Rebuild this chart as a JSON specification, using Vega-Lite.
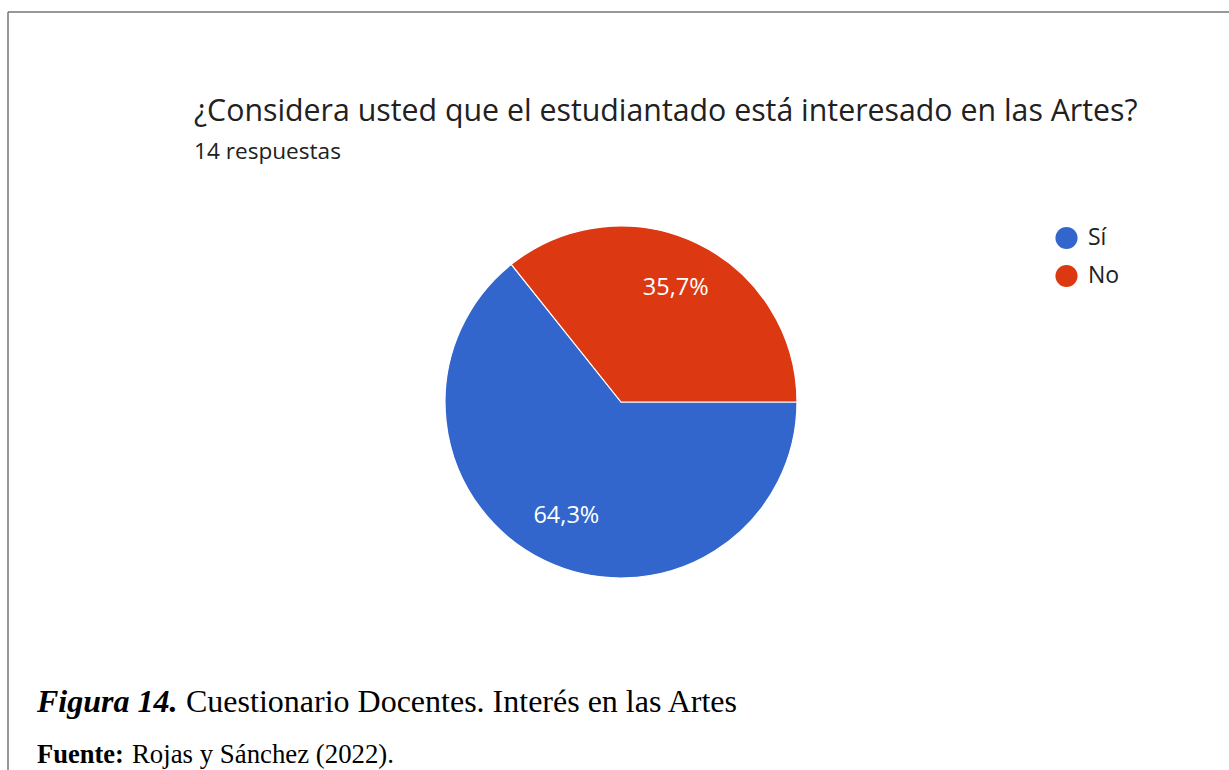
{
  "$schema": "https://vega.github.io/schema/vega-lite/v6.json",
  "autosize": {"type": "none"},
  "width": 1226,
  "height": 780,
  "padding": {"left": 8, "top": 12, "right": -5, "bottom": -22},
  "background": "white",
  "config": {
    "view": {"stroke": "#777777", "strokeWidth": 1.5, "strokeDash": [1226, 2006, 780, 0]},
    "font": "Open Sans"
  },
  "title": {
    "text": "¿Considera usted que el estudiantado está interesado en las Artes?",
    "subtitle": "14 respuestas",
    "anchor": "start",
    "frame": "group",
    "orient": "top",
    "dx": 186,
    "offset": -152,
    "font": "Open Sans",
    "fontSize": 30.3,
    "fontWeight": "normal",
    "color": "#212121",
    "subtitleFont": "Open Sans",
    "subtitleFontSize": 22.6,
    "subtitleColor": "#212121",
    "subtitlePadding": 14
  },
  "data": {
    "values": [
      {"respuesta": "Sí", "n": 9, "label": "64,3%"},
      {"respuesta": "No", "n": 5, "label": "35,7%"}
    ]
  },
  "encoding": {
    "theta": {"field": "n", "type": "quantitative", "stack": true, "scale": {"range": [1.5707963, 7.8539816]}},
    "order": {"field": "ord", "type": "quantitative"}
  },
  "layer": [
    {
      "mark": {"type": "arc", "outerRadius": 176, "stroke": "white", "strokeWidth": 1.2},
      "encoding": {
        "color": {
          "field": "respuesta",
          "type": "nominal",
          "sort": ["Sí", "No"],
          "scale": {"domain": ["Sí", "No"], "range": ["#3366CC", "#DC3912"]},
          "legend": {
            "orient": "none",
            "legendX": 1047,
            "legendY": 214.5,
            "title": null,
            "symbolType": "circle",
            "symbolSize": 490,
            "symbolStrokeWidth": 0,
            "labelFont": "Open Sans",
            "labelFontSize": 23,
            "labelColor": "#212121",
            "labelOffset": 10,
            "rowPadding": 14
          }
        }
      }
    },
    {
      "mark": {"type": "text", "radius": 126, "fill": "white", "fontSize": 23.5, "font": "Open Sans"},
      "encoding": {
        "text": {"field": "label", "type": "nominal"}
      }
    },
    {
      "data": {"values": [{"t": "Figura 14."}]},
      "mark": {"type": "text", "align": "left", "baseline": "alphabetic", "font": "Liberation Serif", "fontSize": 32, "fontStyle": "italic", "fontWeight": "bold", "color": "black"},
      "encoding": {"text": {"field": "t"}, "x": {"value": 29}, "y": {"value": 700}, "theta": null, "order": null}
    },
    {
      "data": {"values": [{"t": "Cuestionario Docentes. Interés en las Artes"}]},
      "mark": {"type": "text", "align": "left", "baseline": "alphabetic", "font": "Liberation Serif", "fontSize": 32, "color": "black"},
      "encoding": {"text": {"field": "t"}, "x": {"value": 178}, "y": {"value": 700}, "theta": null, "order": null}
    },
    {
      "data": {"values": [{"t": "Fuente:"}]},
      "mark": {"type": "text", "align": "left", "baseline": "alphabetic", "font": "Liberation Serif", "fontSize": 26.5, "fontWeight": "bold", "color": "black"},
      "encoding": {"text": {"field": "t"}, "x": {"value": 29}, "y": {"value": 751}, "theta": null, "order": null}
    },
    {
      "data": {"values": [{"t": "Rojas y Sánchez (2022)."}]},
      "mark": {"type": "text", "align": "left", "baseline": "alphabetic", "font": "Liberation Serif", "fontSize": 26.8, "color": "black"},
      "encoding": {"text": {"field": "t"}, "x": {"value": 124}, "y": {"value": 751}, "theta": null, "order": null}
    }
  ]
}
